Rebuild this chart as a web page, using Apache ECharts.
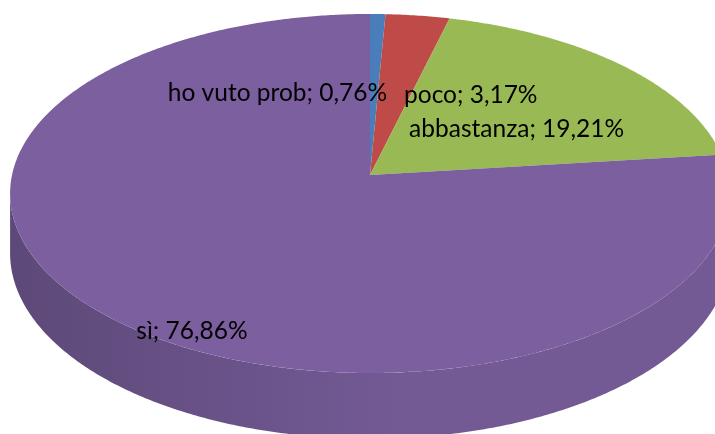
<!DOCTYPE html>
<html>
<head>
<meta charset="utf-8">
<script src="https://cdn.jsdelivr.net/npm/echarts@6/dist/echarts.min.js"></script>
<style>
html,body{margin:0;padding:0;background:#fff;}
#chart{width:715px;height:434px;}
</style>
</head>
<body>
<div id="chart"></div>
<script>
// ---- data ----
const categories = ['ho vuto prob', 'poco', 'abbastanza', 'sì'];
const values = [0.76, 3.17, 19.21, 76.86];
const topColors = ['#4A7EBB', '#BE4B48', '#98B954', '#7C5F9F'];
const wallColors = [
  ['#3A6596', '#4A7EBB'],
  ['#97393A', '#BE4B48'],
  ['#789143', '#98B954'],
  ['#5D4979', '#735A95']
];

// ---- layout (3D pie projection) ----
const CX = 370, CY = 175, A = 358, B = 177.6, P = 0.103, DEPTH = 59;
const labelLayout = [
  {r: 0.5, dx: 13, dy: 3, align: 'right'},
  {r: 0.5, dx: 9, dy: 4, align: 'left'},
  {r: 0.5, dx: -91, dy: 11, align: 'left'},
  {r: 0.9, dx: 52, dy: 28, align: 'center'}
];

const total = values.reduce((a, b) => a + b, 0);
const starts = [];
let acc = 0;
values.forEach(v => { starts.push(acc); acc += v; });

function proj(r, angDeg, depth) {
  const t = angDeg * Math.PI / 180;
  const u = r * Math.sin(t), v = r * Math.cos(t);
  const s = 1 / (1 + P * v);
  return [CX + A * u * s, CY + (-B * v + depth) * s];
}
function arc(a1, a2, depth) {
  const pts = [];
  const n = Math.max(2, Math.ceil(Math.abs(a2 - a1) / 0.5));
  for (let i = 0; i <= n; i++) pts.push(proj(1, a1 + (a2 - a1) * i / n, depth));
  return pts;
}
const VIS1 = Math.acos(-P) * 180 / Math.PI;   // wall visible from
const VIS2 = 360 - VIS1;                        // to

function fmt(v) { return v.toFixed(2).replace('.', ',') + '%'; }

const chart = echarts.init(document.getElementById('chart'), null, {renderer: 'canvas'});
chart.setOption({
  backgroundColor: '#ffffff',
  animation: false,
  series: [{
    type: 'custom',
    coordinateSystem: 'none',
    data: values.map((v, i) => ({name: categories[i], value: v})),
    renderItem: function (params, api) {
      const i = params.dataIndex;
      const val = api.value(0);
      const a1 = starts[i] / total * 360;
      const a2 = (starts[i] + val) / total * 360;
      const children = [];
      // side wall (visible front part)
      const w1 = Math.max(a1, VIS1), w2 = Math.min(a2, VIS2);
      if (w2 > w1) {
        const pts = arc(w1, w2, 0).concat(arc(w2, w1, DEPTH));
        children.push({
          type: 'polygon', z2: 1,
          shape: {points: pts},
          style: {
            fill: new echarts.graphic.LinearGradient(0, 0, 1, 0, [
              {offset: 0, color: wallColors[i][0]},
              {offset: 0.55, color: wallColors[i][1]},
              {offset: 1, color: wallColors[i][1]}
            ])
          }
        });
      }
      // top face
      const top = [proj(0, 0, 0)].concat(arc(a1, a2, 0));
      children.push({
        type: 'polygon', z2: 10,
        shape: {points: top},
        style: {fill: topColors[i]}
      });
      // label
      const L = labelLayout[i];
      const mid = (a1 + a2) / 2;
      const p = proj(L.r, mid, 0);
      children.push({
        type: 'text', z2: 100,
        style: {
          text: categories[i] + '; ' + fmt(val),
          x: p[0] + L.dx, y: p[1] + L.dy,
          align: L.align, verticalAlign: 'middle',
          font: '24.5px Lato', fill: '#000'
        }
      });
      return {type: 'group', children: children};
    }
  }]
});
</script>
</body>
</html>
